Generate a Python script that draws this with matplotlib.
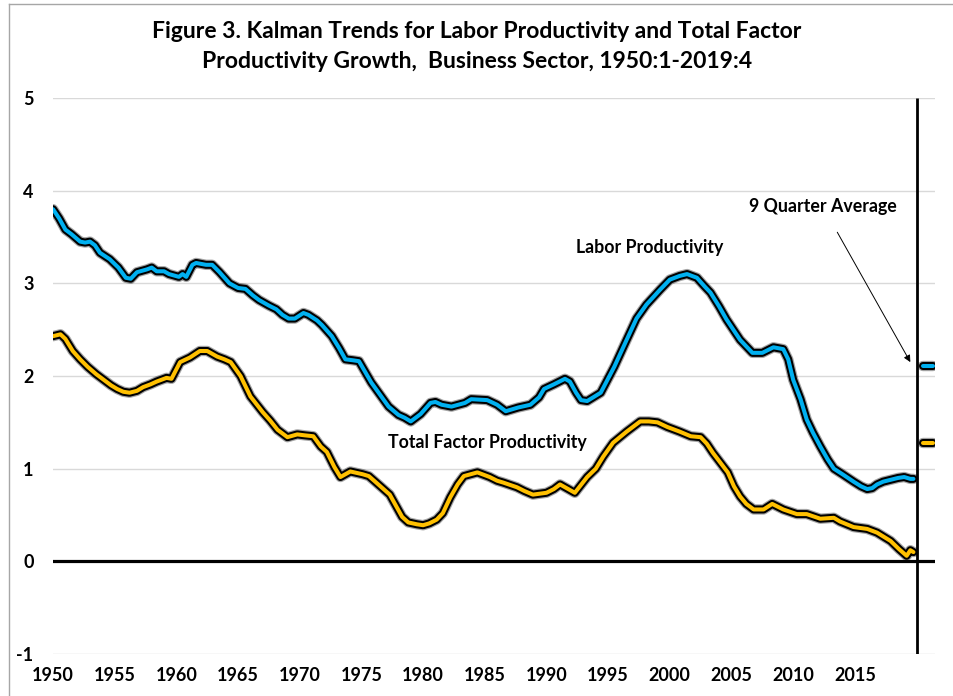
import matplotlib
matplotlib.use('Agg')
import matplotlib.pyplot as plt

plt.rcParams['font.family'] = ['Lato', 'DejaVu Sans']

# Kalman trend, labor productivity
lp_years = [1950.0, 1950.5, 1951.0, 1951.5, 1952.2, 1952.6, 1953.0, 1953.4, 1953.8, 1954.6,
            1955.3, 1955.9, 1956.3, 1956.8, 1957.6, 1958.0, 1958.4, 1959.0, 1959.4, 1960.2,
            1960.5, 1960.8, 1961.3, 1961.6, 1962.4, 1962.9, 1963.5, 1964.3, 1965.0, 1965.6,
            1966.2, 1966.7, 1967.5, 1968.1, 1968.6, 1969.1, 1969.6, 1970.3, 1970.7, 1971.4,
            1971.8, 1972.6, 1973.2, 1973.7, 1974.3, 1974.8, 1975.8, 1976.5, 1977.2, 1978.0,
            1978.5, 1979.0, 1979.8, 1980.6, 1981.0, 1981.5, 1982.3, 1983.4, 1983.9, 1985.2,
            1986.0, 1986.7, 1987.7, 1988.7, 1989.4, 1989.8, 1990.6, 1991.5, 1991.9, 1992.4,
            1992.8, 1993.3, 1994.4, 1995.5, 1996.5, 1997.3, 1998.1, 1999.2, 2000.0, 2000.8,
            2001.4, 2002.2, 2002.8, 2003.3, 2004.0, 2004.6, 2005.2, 2005.7, 2006.7, 2007.5,
            2008.4, 2009.2, 2009.6, 2010.0, 2010.6, 2011.1, 2011.6, 2012.2, 2012.8, 2013.3,
            2014.0, 2014.9, 2015.5, 2016.0, 2016.4, 2016.8, 2017.3, 2017.9, 2018.5, 2019.0,
            2019.5, 2019.75]
lp_vals = [3.80, 3.70, 3.58, 3.53, 3.45, 3.44, 3.45, 3.41, 3.33, 3.26,
           3.17, 3.06, 3.05, 3.12, 3.15, 3.17, 3.13, 3.13, 3.10, 3.07,
           3.10, 3.07, 3.20, 3.22, 3.20, 3.20, 3.12, 3.00, 2.95, 2.94,
           2.87, 2.82, 2.76, 2.72, 2.66, 2.62, 2.62, 2.68, 2.66, 2.60,
           2.55, 2.43, 2.30, 2.18, 2.17, 2.16, 1.93, 1.80, 1.67, 1.58,
           1.55, 1.51, 1.59, 1.71, 1.72, 1.69, 1.67, 1.71, 1.75, 1.74,
           1.69, 1.62, 1.66, 1.69, 1.77, 1.86, 1.91, 1.97, 1.94, 1.82,
           1.74, 1.73, 1.82, 2.10, 2.39, 2.62, 2.77, 2.93, 3.04, 3.08,
           3.10, 3.06, 2.97, 2.90, 2.75, 2.61, 2.49, 2.39, 2.25, 2.25,
           2.31, 2.29, 2.18, 1.96, 1.75, 1.53, 1.39, 1.24, 1.10, 1.00,
           0.94, 0.86, 0.81, 0.78, 0.79, 0.83, 0.86, 0.88, 0.90, 0.91,
           0.89, 0.89]

# Kalman trend, total factor productivity
tfp_years = [1950.0, 1950.6, 1951.0, 1951.6, 1952.2, 1952.8, 1953.5, 1954.1, 1954.7, 1955.2,
             1955.7, 1956.2, 1956.8, 1957.3, 1957.9, 1958.4, 1959.2, 1959.6, 1960.3, 1961.1,
             1961.9, 1962.5, 1963.3, 1963.9, 1964.4, 1965.2, 1966.0, 1967.0, 1967.6, 1968.2,
             1969.0, 1969.8, 1970.4, 1971.1, 1971.7, 1972.2, 1972.8, 1973.3, 1973.7, 1974.1,
             1975.1, 1975.6, 1976.2, 1977.3, 1977.8, 1978.3, 1978.8, 1979.5, 1980.0, 1980.5,
             1981.1, 1981.6, 1982.2, 1982.8, 1983.3, 1984.4, 1985.4, 1986.0, 1986.5, 1987.6,
             1988.2, 1988.9, 1990.0, 1990.6, 1991.1, 1991.9, 1992.3, 1993.3, 1994.0, 1994.6,
             1995.4, 1996.5, 1997.6, 1998.3, 1999.0, 1999.8, 2000.8, 2001.7, 2002.5, 2003.0,
             2003.5, 2004.7, 2005.2, 2005.7, 2006.2, 2006.8, 2007.6, 2008.3, 2009.2, 2010.3,
             2011.1, 2012.2, 2013.3, 2013.8, 2014.9, 2016.0, 2016.8, 2017.9, 2018.6, 2019.2,
             2019.5, 2019.75]
tfp_vals = [2.43, 2.45, 2.40, 2.27, 2.18, 2.10, 2.02, 1.96, 1.90, 1.86,
            1.83, 1.82, 1.84, 1.88, 1.91, 1.94, 1.98, 1.97, 2.15, 2.20,
            2.27, 2.27, 2.21, 2.18, 2.15, 2.00, 1.78, 1.61, 1.52, 1.42,
            1.34, 1.37, 1.36, 1.35, 1.24, 1.18, 1.02, 0.91, 0.94, 0.97,
            0.94, 0.92, 0.85, 0.72, 0.60, 0.48, 0.42, 0.40, 0.39, 0.41,
            0.45, 0.52, 0.69, 0.83, 0.92, 0.96, 0.91, 0.87, 0.85, 0.80,
            0.76, 0.72, 0.74, 0.78, 0.83, 0.77, 0.74, 0.91, 1.00, 1.13,
            1.28, 1.40, 1.51, 1.51, 1.50, 1.45, 1.40, 1.35, 1.34, 1.27,
            1.17, 0.96, 0.81, 0.70, 0.62, 0.56, 0.56, 0.62, 0.56, 0.51,
            0.51, 0.46, 0.47, 0.43, 0.37, 0.35, 0.31, 0.22, 0.13, 0.06,
            0.12, 0.10]

# 9 quarter averages shown right of the end line
avg_lp = 2.11
avg_tfp = 1.28

x_ticks = list(range(1950, 2020, 5))
y_ticks = [-1, 0, 1, 2, 3, 4, 5]

BLUE = '#00B0F0'
GOLD = '#FFC000'

fig = plt.figure(figsize=(9.54, 6.96), dpi=100)
ax = fig.add_axes([0.0556, 0.0603, 0.9245, 0.7989])

# outer frame of the chart area
fig.add_artist(plt.Line2D([9 / 954, 9 / 954], [0, 1 - 4 / 696], transform=fig.transFigure,
                          color='#A6A6A6', lw=1))
fig.add_artist(plt.Line2D([9 / 954, 1], [1 - 4 / 696, 1 - 4 / 696], transform=fig.transFigure,
                          color='#A6A6A6', lw=1))

for y in y_ticks:
    if y != 0:
        ax.axhline(y, color='#D9D9D9', lw=1, zorder=0)
ax.axhline(0, color='black', lw=2.3, zorder=1)
ax.plot([2020.0, 2020.0], [-1, 5], color='black', lw=2, zorder=1, solid_capstyle='butt')


def outlined(xs, ys, color):
    ax.plot(xs, ys, color='black', lw=7.5, alpha=0.35, solid_capstyle='round', zorder=3)
    ax.plot(xs, ys, color='black', lw=5.8, solid_capstyle='round', zorder=3)
    ax.plot(xs, ys, color=color, lw=2.9, solid_capstyle='round', zorder=4)


outlined(lp_years, lp_vals, BLUE)
outlined(tfp_years, tfp_vals, GOLD)
outlined([2020.5, 2021.3], [avg_lp, avg_lp], BLUE)
outlined([2020.5, 2021.3], [avg_tfp, avg_tfp], GOLD)

ax.text(1998.4, 3.39, 'Labor Productivity', fontsize=12.8, fontweight='bold', ha='center', va='center')
ax.text(1985.2, 1.28, 'Total Factor Productivity', fontsize=12.8, fontweight='bold', ha='center', va='center')
ax.annotate('9 Quarter Average', xy=(2019.5, 2.15), xytext=(2012.4, 3.83),
            fontsize=12.8, fontweight='bold', ha='center', va='center',
            arrowprops=dict(arrowstyle='-|>', color='black', lw=0.7, mutation_scale=10,
                            shrinkA=12, shrinkB=0))

ax.set_xlim(1950, 2021.5)
ax.set_ylim(-1, 5)
ax.set_xticks(x_ticks)
ax.set_xticklabels([str(x) for x in x_ticks], fontsize=13, fontweight='bold')
ax.set_yticks(y_ticks)
ax.set_yticklabels([str(y) for y in y_ticks], fontsize=13, fontweight='bold')
ax.tick_params(length=0, pad=14)
ax.tick_params(axis='x', pad=9)
for s in ax.spines.values():
    s.set_visible(False)

fig.text(0.5, 1 - 31 / 696, 'Figure 3. Kalman Trends for Labor Productivity and Total Factor',
         ha='center', va='center', fontsize=16.5, fontweight='bold')
fig.text(0.5, 1 - 61 / 696, 'Productivity Growth,  Business Sector, 1950:1-2019:4',
         ha='center', va='center', fontsize=16.5, fontweight='bold')

plt.savefig('out.png', dpi=100)
plt.close()
